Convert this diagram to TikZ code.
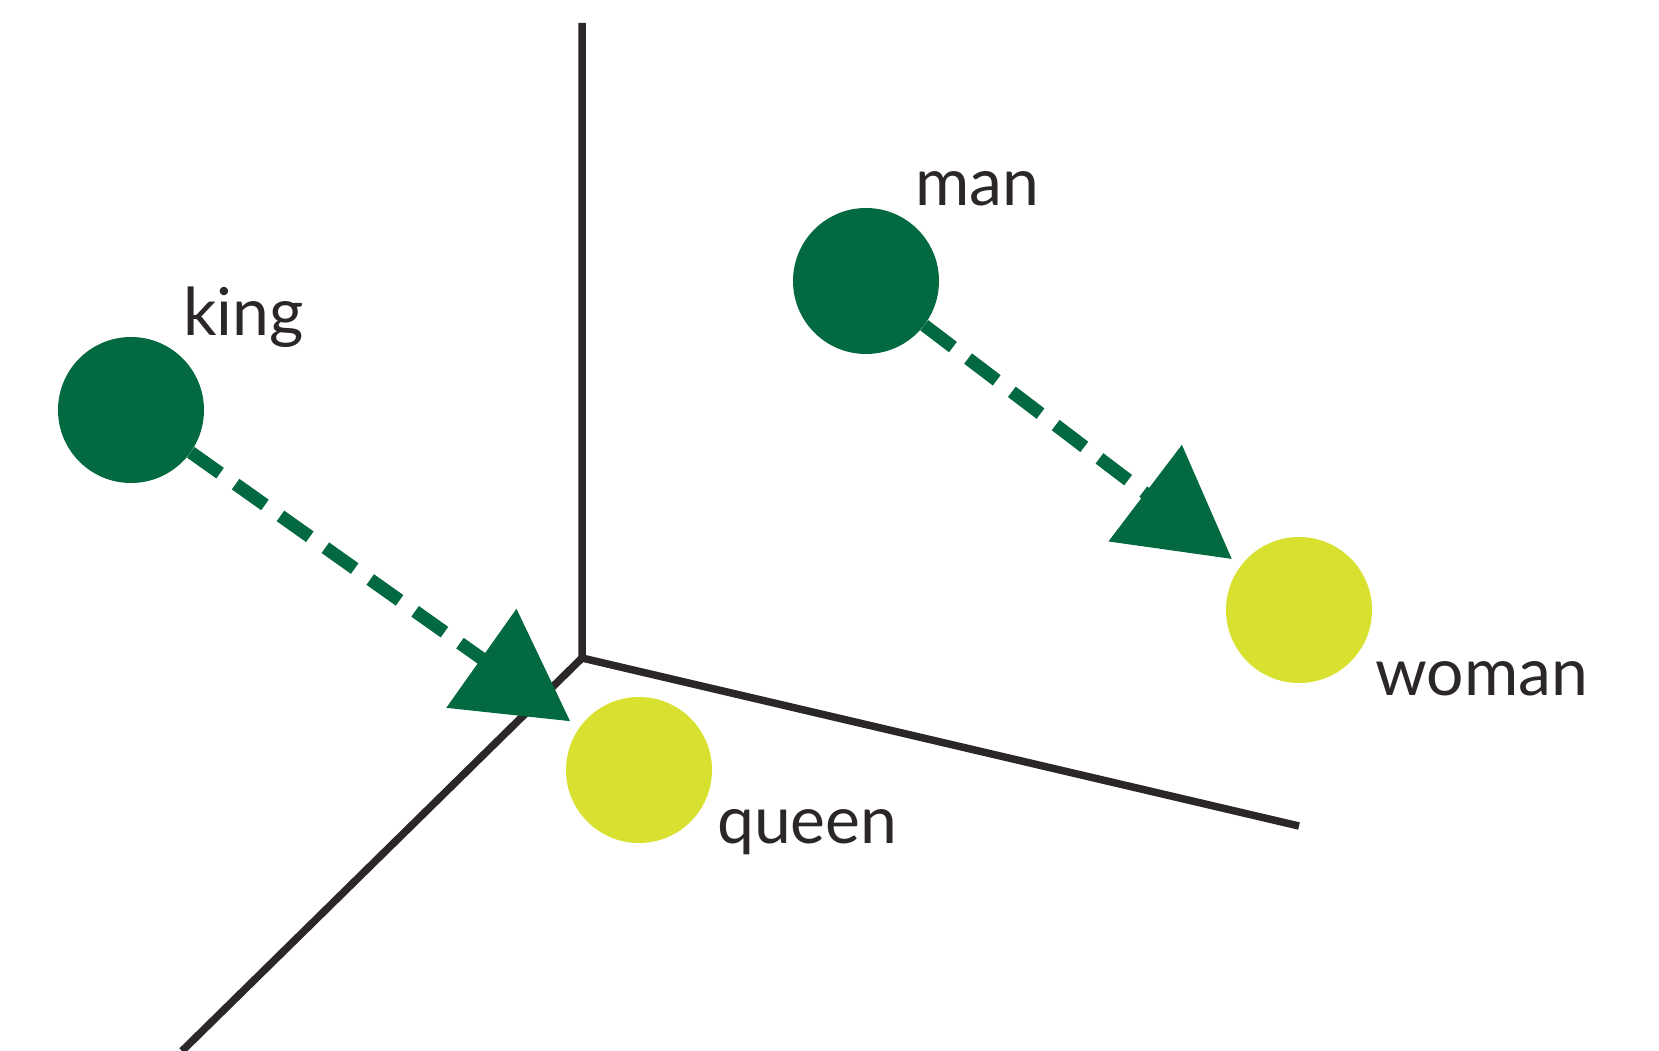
\documentclass[tikz,border=0pt]{standalone}
\usepackage{fontspec}
\newfontfamily\wordfont{Lato}
\usetikzlibrary{arrows.meta}
\definecolor{wordgreen}{RGB}{3,105,64}
\definecolor{wordyellow}{RGB}{217,225,48}
\definecolor{axisgray}{RGB}{43,38,39}
\tikzset{
  word/.style={circle, fill=#1, minimum size=146pt, inner sep=0pt},
  wordlabel/.style={anchor=base west, font=\wordfont\fontsize{66}{72}\selectfont, text=axisgray, inner sep=0pt},
  shift arrow/.style={wordgreen, line width=13pt, dash pattern=on 36pt off 19pt, shorten >=11pt,
    -{Triangle[length=109pt, width=118pt]}}
}
\begin{document}
\begin{tikzpicture}[x=1pt, y=-1pt]
  \useasboundingbox (0,0) rectangle (1659,1051);
  % Draw the axes
  \coordinate (o) at (582,658);
  \coordinate (up) at (582,23);
  \coordinate (right) at (1299,826);
  \coordinate (down) at (182,1051);
  \draw[axisgray, line width=7.5pt] (up) -- (o) -- (right);
  \draw[axisgray, line width=7.5pt] (o) -- (down);
  % Draw the words
  \node[word=wordgreen] (king) at (131,410) {};
  \node[word=wordgreen] (man) at (866,281) {};
  \node[word=wordyellow] (woman) at (1299,610) {};
  \node[word=wordyellow] (queen) at (639,770) {};
  \node[wordlabel] (kinglabel) at (183,335) {king};
  \node[wordlabel] (manlabel) at (915,206) {man};
  \node[wordlabel] (womanlabel) at (1375,695) {woman};
  \node[wordlabel] (queenlabel) at (717,843) {queen};
  % Draw the shifts
  \draw[shift arrow] (king) -- (queen);
  \draw[shift arrow] (man) -- (woman);
\end{tikzpicture}
\end{document}
